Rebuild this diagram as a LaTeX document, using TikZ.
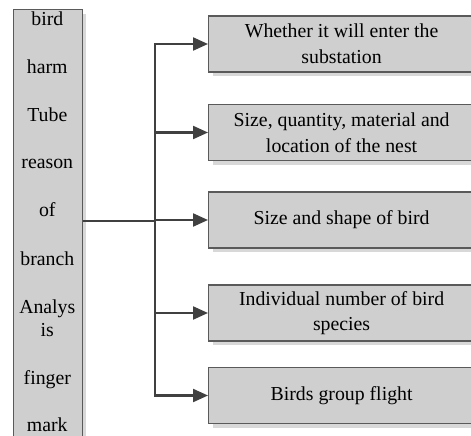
\documentclass[tikz,border=0pt]{standalone}
\usepackage{fontspec}
\setmainfont{Liberation Serif}
\usetikzlibrary{arrows.meta,shadows}
\definecolor{boxfill}{HTML}{CFCFCF}
\definecolor{boxline}{HTML}{5A5A5A}
\definecolor{shadowgrey}{HTML}{D8D8D8}
\definecolor{conn}{HTML}{404040}
\begin{document}
\begin{tikzpicture}[x=1pt,y=-1pt,
  every node/.style={font=\fontsize{19.8}{25.7}\selectfont},
  graybox/.style={draw=boxline, line width=1.2pt, fill=boxfill,
    drop shadow={shadow xshift=4pt, shadow yshift=-4pt, fill=shadowgrey, opacity=1}},
  rightbox/.style={graybox, minimum width=266pt, minimum height=56pt, anchor=west,
    align=center, inner sep=0pt},
  lefttext/.style={anchor=base, inner sep=0pt},
  link/.style={draw=conn, line width=2.2pt},
  arr/.style={link, -{Triangle[length=15pt,width=13pt]}}
]
\useasboundingbox (0,0) rectangle (471,436);
\clip (0,0) rectangle (471,436);
% left tall box
\node[graybox, minimum width=68.7pt, minimum height=440pt, anchor=north west, inner sep=0pt] (L) at (13,9) {};
\node[lefttext] (t1) at (47.3,26) {bird};
\node[lefttext] (t2) at (47.3,74) {harm};
\node[lefttext] (t3) at (47.3,121) {Tube};
\node[lefttext] (t4) at (47.3,168) {reason};
\node[lefttext] (t5) at (47.3,216) {of};
\node[lefttext] (t6) at (47.3,265) {branch};
\node[lefttext] (t7) at (47.3,313) {Analys};
\node[lefttext] (t8) at (47.3,336) {is};
\node[lefttext] (t9) at (47.3,384) {finger};
\node[lefttext] (t10) at (47.3,431) {mark};
% right boxes
\node[rightbox] (b1) at (208,44) {Whether it will enter the\\substation};
\node[rightbox] (b2) at (208,132.5) {Size, quantity, material and\\location of the nest};
\node[rightbox] (b3) at (208,220) {Size and shape of bird};
\node[rightbox] (b4) at (208,313) {Individual number of bird\\species};
\node[rightbox] (b5) at (208,395.5) {Birds group flight};
% connectors
\coordinate (j) at (155,221);
\draw[link] (L.east |- j) -- (j);
\draw[link, line cap=rect] (j |- b1.west) -- (j |- b5.west);
\foreach \b in {b1,b2,b3,b4,b5}{
  \draw[arr] (j |- \b.west) -- (\b.west);
}
\end{tikzpicture}
\end{document}
